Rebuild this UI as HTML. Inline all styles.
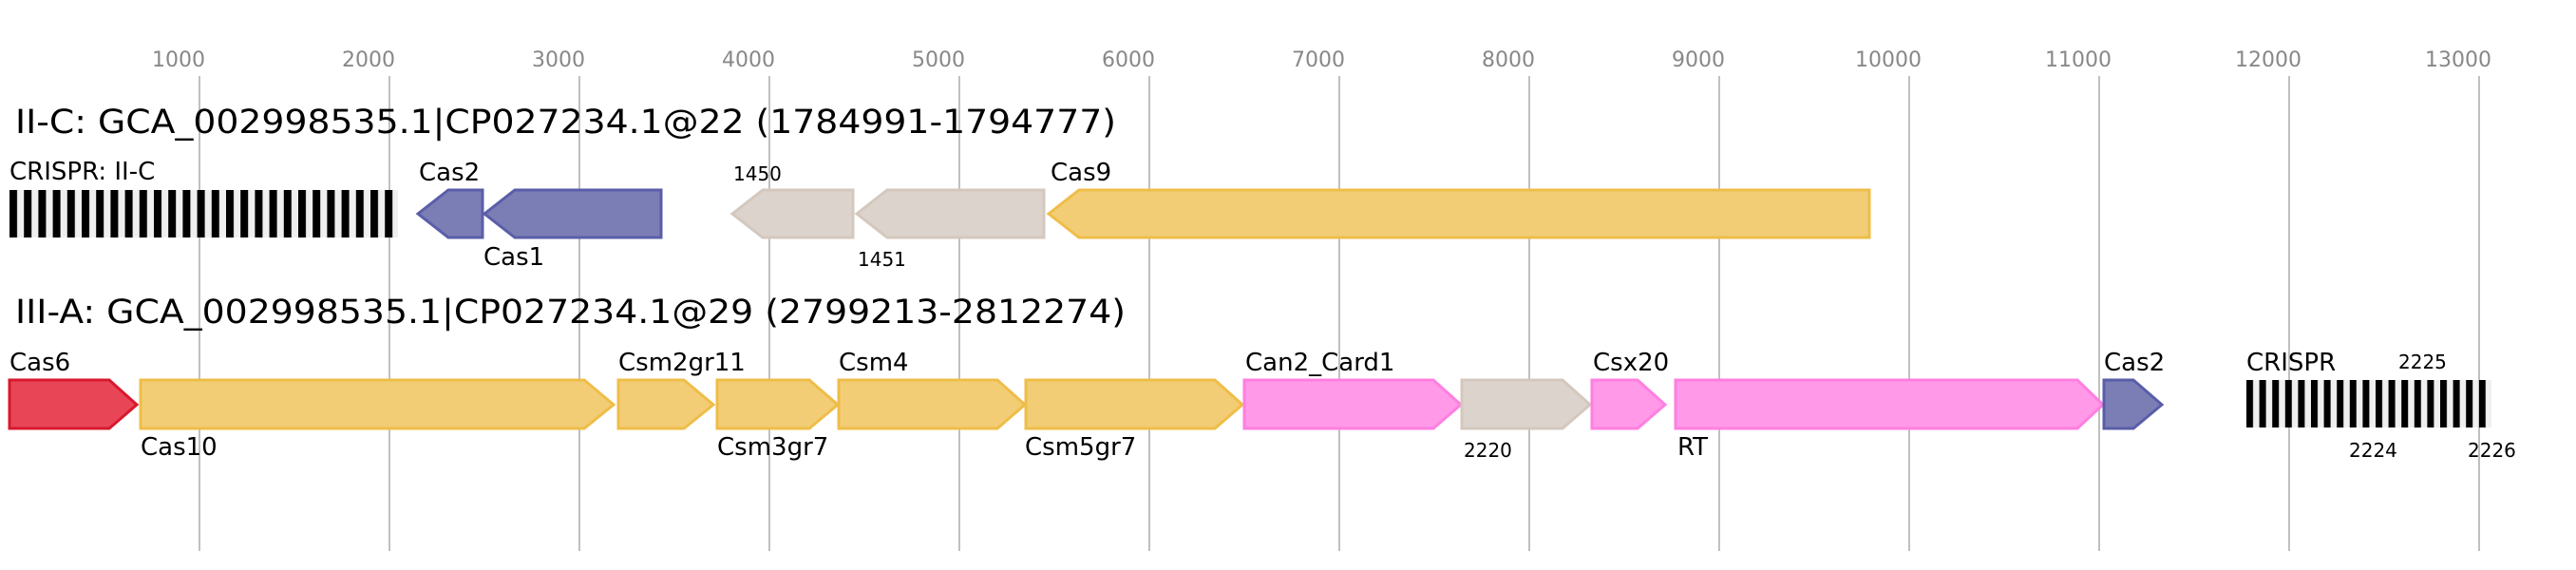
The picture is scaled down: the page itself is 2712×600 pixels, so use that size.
<!DOCTYPE html>
<html><head><meta charset="utf-8"><style>html,body{margin:0;padding:0;background:#fff}svg{display:block}text{font-family:"DejaVu Sans","Liberation Sans",sans-serif}</style></head><body>
<svg width="2712" height="600" xmlns="http://www.w3.org/2000/svg">
<defs>
<pattern id="cr1" x="10" y="0" width="15.2" height="10" patternUnits="userSpaceOnUse"><rect width="15.2" height="10" fill="#efefef"/><rect width="8" height="10" fill="#000"/></pattern>
<pattern id="cr2" x="2365" y="0" width="13.6" height="10" patternUnits="userSpaceOnUse"><rect width="13.6" height="10" fill="#efefef"/><rect width="7" height="10" fill="#000"/></pattern>
</defs>
<g stroke="#c0c0c0" stroke-width="2">
<line x1="210" y1="80" x2="210" y2="580"/><line x1="410" y1="80" x2="410" y2="580"/><line x1="610" y1="80" x2="610" y2="580"/><line x1="810" y1="80" x2="810" y2="580"/><line x1="1010" y1="80" x2="1010" y2="580"/><line x1="1210" y1="80" x2="1210" y2="580"/><line x1="1410" y1="80" x2="1410" y2="580"/><line x1="1610" y1="80" x2="1610" y2="580"/><line x1="1810" y1="80" x2="1810" y2="580"/><line x1="2010" y1="80" x2="2010" y2="580"/><line x1="2210" y1="80" x2="2210" y2="580"/><line x1="2410" y1="80" x2="2410" y2="580"/><line x1="2610" y1="80" x2="2610" y2="580"/>
</g>
<g fill="#888" font-size="22" text-anchor="middle">
<text x="188" y="70">1000</text><text x="388" y="70">2000</text><text x="588" y="70">3000</text><text x="788" y="70">4000</text><text x="988" y="70">5000</text><text x="1188" y="70">6000</text><text x="1388" y="70">7000</text><text x="1588" y="70">8000</text><text x="1788" y="70">9000</text><text x="1988" y="70">10000</text><text x="2188" y="70">11000</text><text x="2388" y="70">12000</text><text x="2588" y="70">13000</text>
</g>
<text x="16" y="140" font-size="35" textLength="1159" lengthAdjust="spacingAndGlyphs">II-C: GCA_002998535.1|CP027234.1@22 (1784991-1794777)</text>
<text x="16" y="340" font-size="35" textLength="1169" lengthAdjust="spacingAndGlyphs">III-A: GCA_002998535.1|CP027234.1@29 (2799213-2812274)</text>
<g stroke-width="3">
<rect x="10" y="200" width="409" height="50" fill="url(#cr1)"/>
<polygon points="440,225 472,200 508,200 508,250 472,250" fill="#7b7db5" stroke="#5a5ea8"/>
<polygon points="510,225 542,200 696,200 696,250 542,250" fill="#7b7db5" stroke="#5a5ea8"/>
<polygon points="771,225 803,200 898,200 898,250 803,250" fill="#dbd3cc" stroke="#d4c8be"/>
<polygon points="902,225 934,200 1099,200 1099,250 934,250" fill="#dbd3cc" stroke="#d4c8be"/>
<polygon points="1104,225 1136,200 1968,200 1968,250 1136,250" fill="#f2cd76" stroke="#efbd48"/>

<polygon points="10,400 115,400 144,426 115,451 10,451" fill="#e84657" stroke="#d9182d"/>
<polygon points="148,400 615,400 646,426 615,451 148,451" fill="#f2cd76" stroke="#efbd48"/>
<polygon points="651,400 720,400 751,426 720,451 651,451" fill="#f2cd76" stroke="#efbd48"/>
<polygon points="755,400 852,400 882,426 852,451 755,451" fill="#f2cd76" stroke="#efbd48"/>
<polygon points="883,400 1050,400 1079,426 1050,451 883,451" fill="#f2cd76" stroke="#efbd48"/>
<polygon points="1080,400 1279,400 1308,426 1279,451 1080,451" fill="#f2cd76" stroke="#efbd48"/>
<polygon points="1310,400 1509,400 1538,426 1509,451 1310,451" fill="#ff99e8" stroke="#ff7fe0"/>
<polygon points="1539,400 1645,400 1674,426 1645,451 1539,451" fill="#dbd3cc" stroke="#d4c8be"/>
<polygon points="1676,400 1724,400 1753,426 1724,451 1676,451" fill="#ff99e8" stroke="#ff7fe0"/>
<polygon points="1764,400 2187,400 2214,426 2187,451 1764,451" fill="#ff99e8" stroke="#ff7fe0"/>
<polygon points="2215,400 2246,400 2276,426 2246,451 2215,451" fill="#7b7db5" stroke="#5a5ea8"/>
</g>
<rect x="2365" y="400" width="258" height="50" fill="url(#cr2)"/>
<g font-size="26" fill="#000">
<text x="10" y="189">CRISPR: II-C</text>
<text x="441" y="190">Cas2</text>
<text x="509" y="279">Cas1</text>
<text x="1106" y="190">Cas9</text>
<text x="10" y="390">Cas6</text>
<text x="148" y="479">Cas10</text>
<text x="651" y="390">Csm2gr11</text>
<text x="755" y="479">Csm3gr7</text>
<text x="883" y="390">Csm4</text>
<text x="1079" y="479">Csm5gr7</text>
<text x="1311" y="390">Can2_Card1</text>
<text x="1677" y="390">Csx20</text>
<text x="1766" y="479">RT</text>
<text x="2215" y="390">Cas2</text>
<text x="2365" y="390">CRISPR</text>
</g>
<g font-size="20" fill="#000">
<text x="772" y="190">1450</text>
<text x="903" y="280">1451</text>
<text x="1541" y="481">2220</text>
<text x="2525" y="388">2225</text>
<text x="2473" y="481">2224</text>
<text x="2598" y="481">2226</text>
</g>
</svg>
</body></html>
